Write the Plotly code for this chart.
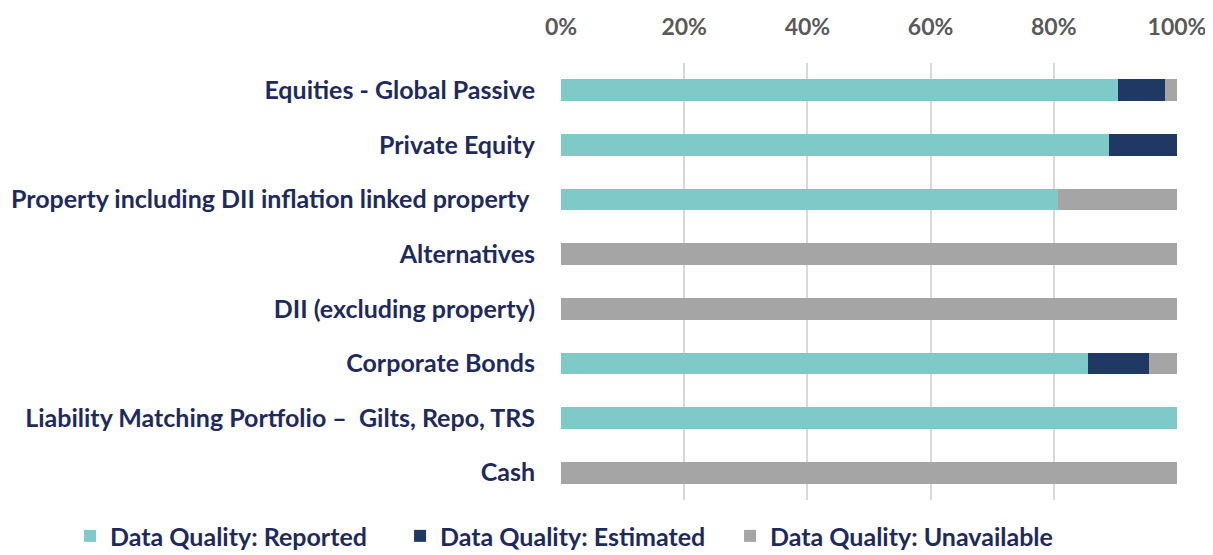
import plotly.graph_objects as go

categories = [
    "Equities - Global Passive",
    "Private Equity",
    "Property including DII inflation linked property ",
    "Alternatives",
    "DII (excluding property)",
    "Corporate Bonds",
    "Liability Matching Portfolio –  Gilts, Repo, TRS",
    "Cash",
]
reported = [0.904, 0.889, 0.807, 0.0, 0.0, 0.856, 1.0, 0.0]
estimated = [0.076, 0.111, 0.0, 0.0, 0.0, 0.098, 0.0, 0.0]
unavailable = [0.020, 0.0, 0.193, 1.0, 1.0, 0.046, 0.0, 1.0]

series_names = ["Data Quality: Reported", "Data Quality: Estimated", "Data Quality: Unavailable"]
series_colors = ["#7FC9C8", "#1F3864", "#A5A5A5"]

FONT = "Lato"
fig = go.Figure()
for name, vals, col in zip(series_names, [reported, estimated, unavailable], series_colors):
    fig.add_trace(go.Bar(
        y=categories, x=vals, name=name, orientation="h",
        marker=dict(color=col, line=dict(width=0)),
        width=0.4,
    ))

fig.update_layout(
    barmode="stack",
    width=1205, height=547,
    margin=dict(l=553, r=36, t=55, b=55, autoexpand=False),
    plot_bgcolor="white", paper_bgcolor="white",
    font=dict(family=FONT),
    xaxis=dict(
        side="top", range=[0, 1], tickvals=[0, 0.2, 0.4, 0.6, 0.8, 1.0],
        tickformat=".0%", showgrid=True, gridcolor="#D9D9D9", gridwidth=2,
        zeroline=False, showline=False, automargin=False,
        tickfont=dict(family=FONT, size=23, color="#595959", weight="bold"),
        ticklabelstandoff=22,
    ),
    yaxis=dict(
        autorange="reversed", showgrid=False, showline=False, zeroline=False,
        automargin=False,
        tickfont=dict(family=FONT, size=25, color="#1F2A5C", weight="bold"),
        ticklabelstandoff=25,
    ),
    legend=dict(
        orientation="h", xref="paper", yref="paper",
        x=-0.797, y=-0.03, xanchor="left", yanchor="top",
        font=dict(family=FONT, size=25, color="#1F2A5C", weight="bold"),
        traceorder="normal", itemwidth=30, tracegroupgap=0,
        entrywidth=285, entrywidthmode="pixels",
    ),
)

fig.write_html("out.html")
